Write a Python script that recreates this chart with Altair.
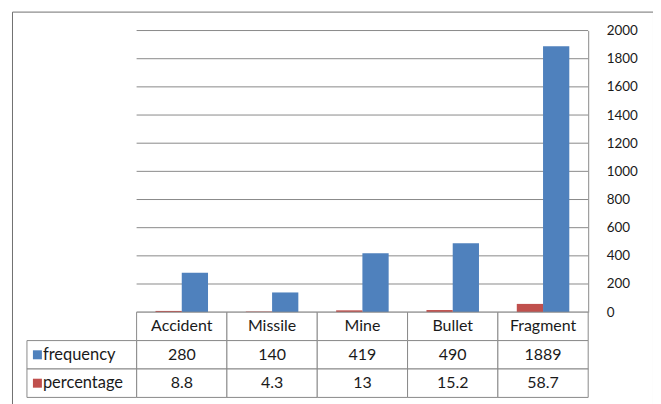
import altair as alt
import pandas as pd

categories = ["Accident", "Missile", "Mine", "Bullet", "Fragment"]
frequency = [280, 140, 419, 490, 1889]
percentage = [8.8, 4.3, 13, 15.2, 58.7]
percentage_labels = ["8.8", "4.3", "13", "15.2", "58.7"]
series_names = ["frequency", "percentage"]
series_colors = ["#4F81BD", "#C0504D"]
y_ticks = [0, 200, 400, 600, 800, 1000, 1200, 1400, 1600, 1800, 2000]
rows = ["header", "frequency", "percentage"]

FONT = "Lato"
TXT = "#1a1a1a"
LINE = "#8a8a8a"

bars_df = pd.DataFrame(
    [{"cat": c, "series": "frequency", "value": v} for c, v in zip(categories, frequency)]
    + [{"cat": c, "series": "percentage", "value": v} for c, v in zip(categories, percentage)]
)
grid_df = pd.DataFrame({"value": y_ticks})
table_df = pd.DataFrame(
    [{"cat": c, "row": "header", "label": c} for c in categories]
    + [{"cat": c, "row": "frequency", "label": str(v)} for c, v in zip(categories, frequency)]
    + [{"cat": c, "row": "percentage", "label": l} for c, l in zip(categories, percentage_labels)]
)
legend_df = pd.DataFrame({"row": series_names, "series": series_names})

xscale = alt.Scale(domain=categories, range=[125, 578], type="band", paddingInner=0, paddingOuter=0)
yscale = alt.Scale(domain=[0, 2000], range=[301.5, 19], nice=False)
rscale = alt.Scale(domain=rows, range=[301.5, 387], type="band", paddingInner=0, paddingOuter=0)
cscale = alt.Scale(domain=series_names, range=series_colors)

yaxis = alt.Axis(
    orient="right",
    offset=-65,
    values=y_ticks,
    format="d",
    grid=False,
    ticks=False,
    tickSize=0,
    domain=True,
    domainColor=LINE,
    labelPadding=18,
    labelFont=FONT,
    labelFontSize=13.5,
    labelColor=TXT,
    title=None,
)

grid = alt.Chart(grid_df).mark_rule(color=LINE, strokeWidth=1).encode(
    y=alt.Y("value:Q", scale=yscale, axis=yaxis),
    x=alt.value(125),
    x2=alt.value(578),
)

bars = alt.Chart(bars_df).mark_bar().encode(
    x=alt.X("cat:N", scale=xscale, axis=None, sort=categories),
    xOffset=alt.XOffset("series:N", scale=alt.Scale(domain=["percentage", "frequency"], paddingOuter=0.72, paddingInner=0)),
    y=alt.Y("value:Q", scale=yscale, axis=yaxis),
    color=alt.Color("series:N", scale=cscale, legend=None),
)

quant = alt.layer(grid, bars)

cells = alt.Chart(table_df).mark_rect(fill="white", stroke=LINE, strokeWidth=1).encode(
    x=alt.X("cat:N", scale=xscale, axis=None),
    y=alt.Y("row:N", scale=rscale, axis=None),
)
label_cells = alt.Chart(legend_df).mark_rect(fill="white", stroke=LINE, strokeWidth=1).encode(
    x=alt.value(15),
    x2=alt.value(125),
    y=alt.Y("row:N", scale=rscale, axis=None),
)
cell_text = alt.Chart(table_df).mark_text(font=FONT, fontSize=16, color=TXT, baseline="middle").encode(
    x=alt.X("cat:N", scale=xscale, axis=None, bandPosition=0.5),
    y=alt.Y("row:N", scale=rscale, axis=None, bandPosition=0.5),
    text="label:N",
)
row_text = alt.Chart(legend_df).mark_text(font=FONT, fontSize=16.5, color=TXT, align="left", baseline="middle").encode(
    x=alt.value(31),
    y=alt.Y("row:N", scale=rscale, axis=None, bandPosition=0.5),
    text="series:N",
)
keys = alt.Chart(legend_df).mark_square(size=81, opacity=1).encode(
    x=alt.value(25.5),
    y=alt.Y("row:N", scale=rscale, axis=None, bandPosition=0.5),
    color=alt.Color("series:N", scale=cscale, legend=None),
)

table = alt.layer(cells, label_cells, cell_text, row_text, keys)

chart = (
    alt.layer(quant, table)
    .resolve_scale(y="independent")
    .properties(
        width=643,
        height=394,
        autosize=alt.AutoSizeParams(type="none"),
        padding={"left": 4, "top": 3, "right": 0, "bottom": 0},
        background="white",
    )
    .configure_view(stroke="#707070", strokeWidth=1)
)

chart.save("out.html", embed_options={"renderer": "svg", "actions": False})
